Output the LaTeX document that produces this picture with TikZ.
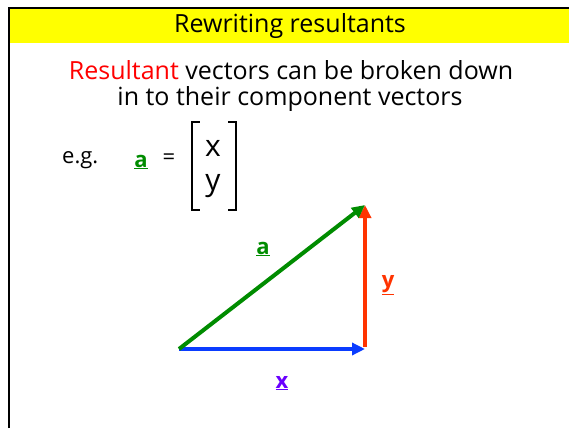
\documentclass[tikz,border=0pt]{standalone}
\usepackage{fontspec}
\setmainfont{Open Sans}
\usetikzlibrary{arrows.meta}
\definecolor{ttl}{HTML}{FFFF00}
\definecolor{vgreen}{HTML}{008C00}
\definecolor{vblue}{HTML}{0A3CFF}
\definecolor{vred}{HTML}{FF3300}
\definecolor{vpurple}{HTML}{6A00FF}
\definecolor{tred}{HTML}{FF0000}
\begin{document}
\begin{tikzpicture}[x=1pt,y=-1pt,
  txt/.style={inner sep=0pt,font=\fontsize{25}{30}\selectfont},
  sml/.style={inner sep=0pt,font=\fontsize{22}{26}\selectfont},
  big/.style={inner sep=0pt,font=\fontsize{30}{34}\selectfont},
  vec/.style={line width=4pt,-{Triangle[length=13pt,width=12pt]}},
  brk/.style={line width=1.1pt,line cap=rect}]
\useasboundingbox (0,0) rectangle (569,428);
\fill[white] (0,0) rectangle (569,428);
\fill[ttl] (9,8) rectangle (569,43.5);
\draw[line width=2.5pt] (9,428) -- (9,8) -- (569,8);
\node[txt] (title) at (290,26) {Rewriting resultants};
\node[txt] (l1) at (291,70) {\textcolor{tred}{Resultant} vectors can be broken down};
\node[txt] (l2) at (290,99) {in to their component vectors};
\node[sml,anchor=west] (eg) at (62,160) {e.g.};
\node[sml,text=vgreen] (alab) at (141,162) {\underline{\textbf{a}}};
\node[sml] (eq) at (169,159) {=};
\node[big] (mx) at (213,148) {x};
\node[big] (my) at (213,186) {y};
\draw[brk] (199,122) -- (192,122) -- (192,210) -- (199,210);
\draw[brk] (229,122) -- (236,122) -- (236,210) -- (229,210);
\coordinate (O) at (179,349);
\coordinate (P) at (365,349);
\coordinate (Q) at (365,205);
\draw[vec,vred] ([yshift=2pt]P) -- (Q);
\draw[vec,vblue] (O) -- (P);
\draw[vec,vgreen] (O) -- (Q);
\node[sml,text=vgreen] (av) at (263,249) {\underline{\textbf{a}}};
\node[sml,text=vred] (yv) at (388,285) {\underline{\textbf{y}}};
\node[sml,text=vpurple] (xv) at (282,383) {\underline{\textbf{x}}};
\end{tikzpicture}
\end{document}
